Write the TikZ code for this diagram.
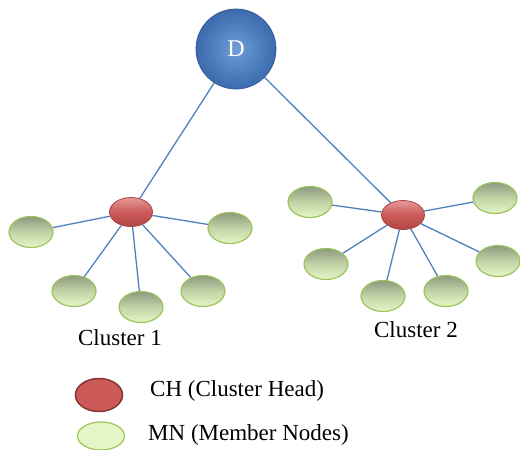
\documentclass[tikz,border=0pt]{standalone}
\usepackage{fontspec}
\setmainfont{Liberation Serif}
\usetikzlibrary{shapes.geometric}
\definecolor{linkblue}{HTML}{4F81BD}
\definecolor{mnborder}{HTML}{9BC45A}
\definecolor{mntop}{HTML}{8E9980}
\definecolor{mnmid}{HTML}{C2D3A6}
\definecolor{mnbot}{HTML}{E4F5C6}
\definecolor{chtop}{HTML}{E49A98}
\definecolor{chmid}{HTML}{CC5A58}
\definecolor{chbot}{HTML}{B04644}
\definecolor{chborder}{HTML}{A84444}
\definecolor{dinner}{HTML}{6E9DD9}
\definecolor{douter}{HTML}{3C6BAE}
\definecolor{dborder}{HTML}{345F9C}
\begin{document}
\begin{tikzpicture}[x=1pt,y=-1pt,
  mnnode/.style={ellipse,draw=mnborder,line width=1.2pt,top color=mntop,bottom color=mnbot,middle color=mnmid,
    minimum width=44pt,minimum height=31pt,inner sep=0pt},
  chnode/.style={ellipse,draw=chborder,line width=0.8pt,top color=chtop,bottom color=chbot,middle color=chmid,
    minimum width=43pt,minimum height=29pt,inner sep=0pt},
  dnode/.style={circle,draw=dborder,line width=0.8pt,inner color=dinner,outer color=douter,
    minimum size=80pt,inner sep=0pt,text=white,font=\fontsize{24}{28}\selectfont},
  link/.style={draw=linkblue,line width=1.3pt},
  lbl/.style={font=\fontsize{23}{27}\selectfont,text=black,inner sep=0pt}]
\useasboundingbox (0,0) rectangle (520,450);
% D
\node[dnode] (D) at (236,49) {D};
% cluster heads
\node[chnode] (ch1) at (131,212) {};
\node[chnode] (ch2) at (403,215) {};
% cluster 1 members
\node[mnnode] (a1) at (31,232) {};
\node[mnnode] (a2) at (230,228) {};
\node[mnnode] (a3) at (74,291) {};
\node[mnnode] (a4) at (141,307) {};
\node[mnnode] (a5) at (203,291) {};
% cluster 2 members
\node[mnnode] (b1) at (310,202) {};
\node[mnnode] (b2) at (495,198) {};
\node[mnnode] (b3) at (326,264) {};
\node[mnnode] (b4) at (498,261) {};
\node[mnnode] (b5) at (383,296) {};
\node[mnnode] (b6) at (446,291) {};
% links
\path[link] (D) -- (ch1);
\path[link] (D) -- (ch2);
\foreach \m in {a1,a2,a3,a4,a5} \path[link] (ch1) -- (\m);
\foreach \m in {b1,b2,b3,b4,b5,b6} \path[link] (ch2) -- (\m);
% labels
\node[lbl] (c1) at (120,338) {Cluster 1};
\node[lbl] (c2) at (416,330) {Cluster 2};
% legend
\node[ellipse,draw=chborder!80!black,line width=1.5pt,fill=chmid,minimum width=47pt,minimum height=33pt,inner sep=0pt] (lch) at (99,395) {};
\node[ellipse,draw=mnborder,line width=1.2pt,fill=mnbot,minimum width=47pt,minimum height=28pt,inner sep=0pt] (lmn) at (101,436) {};
\node[lbl,anchor=west] (tch) at (150,391) {CH (Cluster Head)};
\node[lbl,anchor=west] (tmn) at (148,435) {MN (Member Nodes)};
\end{tikzpicture}
\end{document}
